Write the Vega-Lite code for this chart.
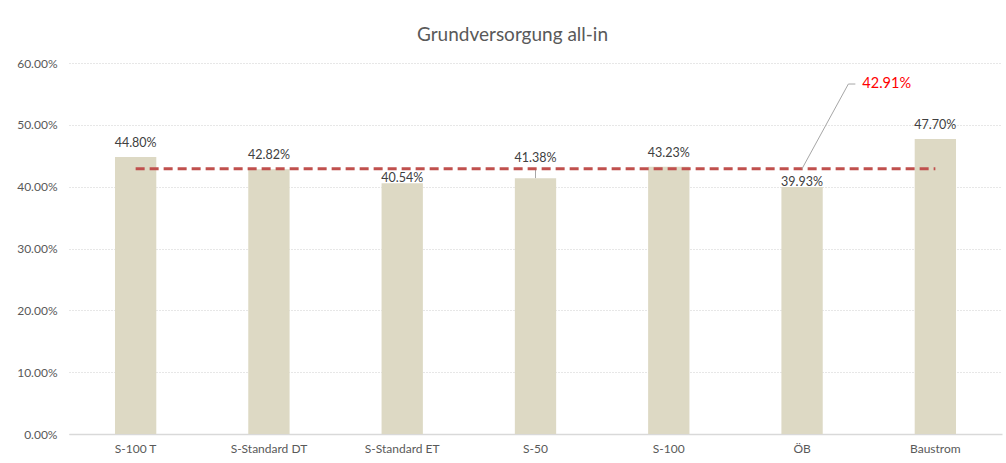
{
  "$schema": "https://vega.github.io/schema/vega-lite/v6.json",
  "width": 933,
  "height": 371,
  "autosize": {"type": "none"},
  "padding": {"left": 69, "top": 63, "right": 4, "bottom": 29},
  "background": "white",
  "title": {
    "text": "Grundversorgung all-in",
    "font": "Lato",
    "fontSize": 19,
    "fontWeight": "normal",
    "color": "#595959",
    "anchor": "middle",
    "offset": 12,
    "dx": -23
  },
  "datasets": {
    "tariffs": [
      {"tarif": "S-100 T", "anteil": 0.448},
      {"tarif": "S-Standard DT", "anteil": 0.4282},
      {"tarif": "S-Standard ET", "anteil": 0.4054},
      {"tarif": "S-50", "anteil": 0.4138},
      {"tarif": "S-100", "anteil": 0.4323},
      {"tarif": "ÖB", "anteil": 0.3993},
      {"tarif": "Baustrom", "anteil": 0.477}
    ],
    "average": [
      {"von": "S-100 T", "bis": "Baustrom", "mittel": 0.4291, "label_at": 0.566}
    ]
  },
  "encoding": {
    "x": {
      "field": "tarif",
      "type": "nominal",
      "scale": {
        "domain": ["S-100 T", "S-Standard DT", "S-Standard ET", "S-50", "S-100", "ÖB", "Baustrom"],
        "paddingInner": 0.69,
        "paddingOuter": 0.345
      },
      "axis": {
        "title": null,
        "labelAngle": 0,
        "labelFont": "Lato",
        "labelFontSize": 12,
        "labelColor": "#595959",
        "labelPadding": 9,
        "ticks": false,
        "domainColor": "#D9D9D9",
        "domainWidth": 1.5,
        "grid": false
      }
    }
  },
  "layer": [
    {
      "data": {"name": "tariffs"},
      "mark": {"type": "bar", "color": "#DDD9C4"},
      "encoding": {
        "y": {
          "field": "anteil",
          "type": "quantitative",
          "scale": {"domain": [0, 0.6], "nice": false},
          "axis": {
            "title": null,
            "format": ".2%",
            "values": [0, 0.1, 0.2, 0.3, 0.4, 0.5, 0.6],
            "labelFont": "Lato",
            "labelFontSize": 12,
            "labelColor": "#595959",
            "labelPadding": 12,
            "ticks": false,
            "domain": false,
            "gridColor": "#CFCFCF",
            "gridDash": [1, 2],
            "gridWidth": 1
          }
        }
      }
    },
    {
      "data": {"name": "tariffs"},
      "transform": [{"filter": "datum.anteil >= 0.42"}],
      "mark": {"type": "text", "baseline": "alphabetic", "dy": -10, "font": "Lato", "fontSize": 12.5, "color": "#404040"},
      "encoding": {
        "y": {"field": "anteil", "type": "quantitative"},
        "text": {"field": "anteil", "type": "quantitative", "format": ".2%"}
      }
    },
    {
      "data": {"name": "tariffs"},
      "transform": [{"filter": "datum.anteil < 0.41"}],
      "mark": {"type": "text", "baseline": "alphabetic", "dy": -1.5, "font": "Lato", "fontSize": 12.5, "color": "#404040"},
      "encoding": {
        "y": {"field": "anteil", "type": "quantitative"},
        "text": {"field": "anteil", "type": "quantitative", "format": ".2%"}
      }
    },
    {
      "data": {"name": "tariffs"},
      "transform": [{"filter": "datum.anteil >= 0.41 && datum.anteil < 0.42"}],
      "mark": {"type": "text", "baseline": "alphabetic", "dy": -16, "font": "Lato", "fontSize": 12.5, "color": "#404040"},
      "encoding": {
        "y": {"field": "anteil", "type": "quantitative"},
        "text": {"field": "anteil", "type": "quantitative", "format": ".2%"}
      }
    },
    {
      "data": {"name": "tariffs"},
      "transform": [{"filter": "datum.anteil >= 0.41 && datum.anteil < 0.42"}],
      "mark": {"type": "rule", "color": "#A6A6A6", "strokeWidth": 1},
      "encoding": {
        "y": {"field": "anteil", "type": "quantitative"},
        "y2": {"datum": 0.4291}
      }
    },
    {
      "data": {"name": "average"},
      "mark": {"type": "rule", "color": "#C0504D", "strokeWidth": 3, "strokeDash": [9, 5]},
      "encoding": {
        "x": {"field": "von", "type": "nominal", "bandPosition": 0.5},
        "x2": {"field": "bis", "bandPosition": 0.5},
        "y": {"field": "mittel", "type": "quantitative"}
      }
    },
    {
      "data": {"name": "average"},
      "mark": {"type": "rule", "color": "#A6A6A6", "strokeWidth": 1},
      "encoding": {
        "x": {"datum": "ÖB", "type": "nominal", "bandPosition": 0.5},
        "x2": {"datum": "ÖB", "bandPosition": 1.62},
        "y": {"field": "mittel", "type": "quantitative"},
        "y2": {"field": "label_at"}
      }
    },
    {
      "data": {"name": "average"},
      "mark": {"type": "rule", "color": "#A6A6A6", "strokeWidth": 1},
      "encoding": {
        "x": {"datum": "ÖB", "type": "nominal", "bandPosition": 1.62},
        "x2": {"datum": "ÖB", "bandPosition": 1.79},
        "y": {"field": "label_at", "type": "quantitative"}
      }
    },
    {
      "data": {"name": "average"},
      "mark": {"type": "text", "align": "left", "baseline": "middle", "dx": 7, "font": "Lato", "fontSize": 14.5, "color": "#FF0000"},
      "encoding": {
        "x": {"datum": "ÖB", "type": "nominal", "bandPosition": 1.79},
        "y": {"field": "label_at", "type": "quantitative"},
        "text": {"field": "mittel", "type": "quantitative", "format": ".2%"}
      }
    }
  ],
  "config": {
    "view": {"stroke": null}
  }
}
